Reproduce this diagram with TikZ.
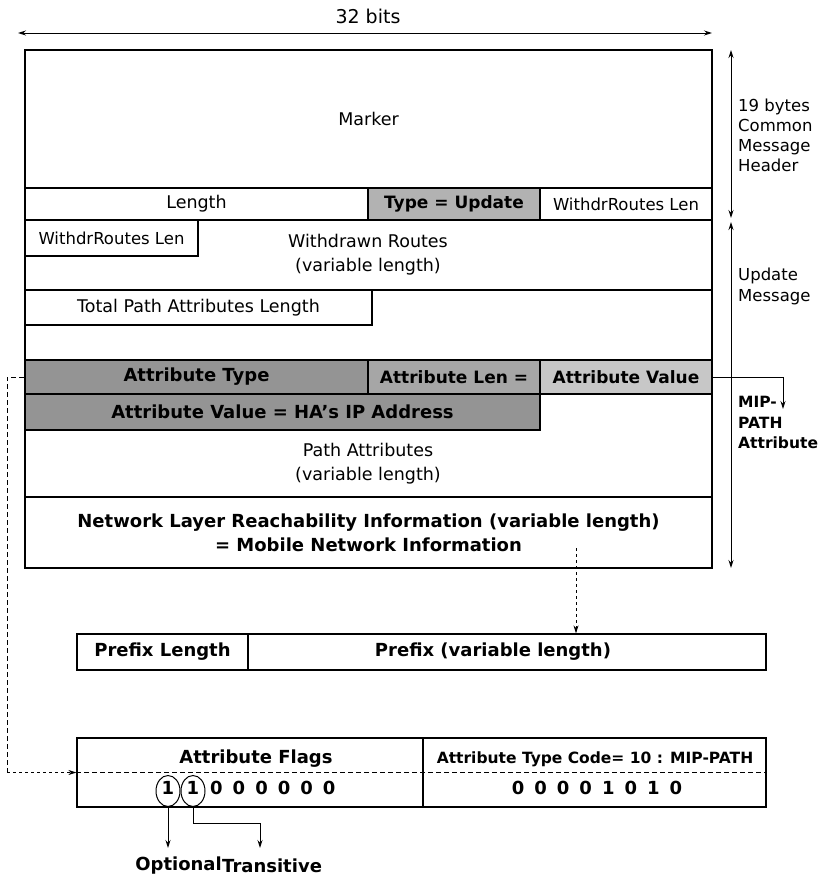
\documentclass[tikz,border=0pt]{standalone}
\usepackage{fontspec}
\setmainfont{DejaVu Sans}
\usetikzlibrary{arrows.meta,shapes.geometric}
\begin{document}
\begin{tikzpicture}[x=1pt,y=-1pt,
  txt/.style={font=\fontsize{17.5}{24}\selectfont, inner sep=0pt, align=center},
  btxt/.style={font=\bfseries\fontsize{18}{24}\selectfont, inner sep=0pt, align=center},
  cell/.style={draw, line width=1.2pt, inner sep=0pt, anchor=center},
  hot/.style={draw, line width=2.6pt, inner sep=0pt, anchor=center},
  arr/.style={-{Stealth[length=8pt,width=5pt]}, line width=0.9pt},
  darr/.style={{Stealth[length=8pt,width=5pt]}-{Stealth[length=8pt,width=5pt]}, line width=0.9pt},
  dsh/.style={dashed, dash pattern=on 5pt off 3pt, line width=1pt}
]
\useasboundingbox (0,0) rectangle (822,881);
\fill[white] (0,0) rectangle (822,881);

% 32 bits
\node[txt, font=\fontsize{19}{24}\selectfont] (bits) at (368,16) {32 bits};
\coordinate (bl) at (18,33);
\coordinate (br) at (712,33);
\draw[darr] (bl) -- (br);

% header
\node[cell, minimum width=687pt, minimum height=138pt, txt] (marker) at (368.5,119) {Marker};
\node[cell, minimum width=343pt, minimum height=32pt, txt] (len) at (196.5,204) {Length};
\node[cell, minimum width=172pt, minimum height=32pt, fill=black!30, btxt, font=\bfseries\fontsize{17}{22}\selectfont] (type) at (454,204) {Type = Update};
\node[cell, minimum width=172pt, minimum height=32pt, txt, font=\fontsize{16.5}{22}\selectfont] (wrl1) at (626,204) {WithdrRoutes Len};

% withdrawn routes
\node[cell, minimum width=687pt, minimum height=70pt] (wr) at (368.5,255) {};
\node[txt] (wrt) at (368,255) {Withdrawn Routes\\(variable length)};
\node[cell, minimum width=173pt, minimum height=36pt, txt, font=\fontsize{16.5}{22}\selectfont] (wrl2) at (111.5,238) {WithdrRoutes Len};

% path attributes
\node[cell, minimum width=687pt, minimum height=207pt] (pa) at (368.5,393.5) {};
\node[cell, minimum width=347pt, minimum height=35pt, txt] (tpal) at (198.5,307.5) {Total Path Attributes Length};
\node[hot, minimum width=343pt, minimum height=34pt, fill=black!42, btxt] (atype) at (196.5,377) {Attribute Type};
\node[hot, minimum width=172pt, minimum height=34pt, fill=black!35, btxt, font=\bfseries\fontsize{17}{22}\selectfont] (alen) at (454,377) {Attribute Len =};
\node[hot, minimum width=172pt, minimum height=34pt, fill=black!22, btxt, font=\bfseries\fontsize{17}{22}\selectfont] (aval) at (626,377) {Attribute Value};
\node[hot, minimum width=515pt, minimum height=36pt, fill=black!42, btxt] (haip) at (282.5,412) {Attribute Value = HA's IP Address};
\node[txt] (pat) at (368,464) {Path Attributes\\(variable length)};

% NLRI
\node[cell, minimum width=687pt, minimum height=71pt, btxt] (nlri) at (368.5,532.5) {Network Layer Reachability Information (variable length)\\= Mobile Network Information};

% right side arrows and labels
\coordinate (h1) at (731,50);
\coordinate (h2) at (731,218);
\coordinate (u1) at (731,222);
\coordinate (u2) at (731,568);
\draw[darr] (h1) -- (h2);
\draw[darr] (u1) -- (u2);
\node[txt, anchor=north west, align=left, font=\fontsize{16.5}{20}\selectfont] (hdr) at (738,99) {19 bytes\\Common\\Message\\Header};
\node[txt, anchor=north west, align=left, font=\fontsize{16.5}{21}\selectfont] (upd) at (738,268) {Update\\Message};
\node[btxt, anchor=north west, align=left, font=\bfseries\fontsize{15.5}{20.5}\selectfont] (mip) at (738,396) {MIP-\\PATH\\Attribute};
\coordinate (mc) at (783,377);
\coordinate (md) at (783,409);
\draw[arr] (aval.east) -- (mc) -- (md);

% prefix
\node[cell, minimum width=171pt, minimum height=36pt, btxt] (plen) at (162.5,652) {Prefix Length};
\node[cell, minimum width=518pt, minimum height=36pt] (pfx) at (507,652) {};
\node[btxt] (pfxt) at (493,652) {Prefix (variable length)};
\coordinate (nl) at (576,548);
\draw[dsh, arr, dashed] (nl) -- (nl |- pfx.north);

% attribute flags / type code
\node[cell, minimum width=346pt, minimum height=69pt] (af) at (250,772.5) {};
\node[cell, minimum width=343pt, minimum height=69pt] (tc) at (594.5,772.5) {};
\draw[dsh] (af.west) -- (tc.east);
\node[btxt] (aft) at (256,759) {Attribute Flags};
\node[btxt, font=\bfseries\fontsize{15.5}{18}\selectfont] (tct) at (595,759) {Attribute Type Code= 10 : MIP-PATH};
\node[btxt] (b1) at (168,788) {1};
\node[btxt] (b2) at (193,788) {1};
\node[btxt, anchor=west] (b3) at (210,788) {0\hspace{10pt}0\hspace{10pt}0\hspace{10pt}0\hspace{10pt}0\hspace{10pt}0};
\node[btxt] (tcb) at (597,788) {0\hspace{10pt}0\hspace{10pt}0\hspace{10pt}0\hspace{10pt}1\hspace{10pt}0\hspace{10pt}1\hspace{10pt}0};
\node[draw, ellipse, line width=1pt, minimum width=24pt, minimum height=31pt, inner sep=0pt] (e1) at (168,791) {};
\node[draw, ellipse, line width=1pt, minimum width=24pt, minimum height=31pt, inner sep=0pt] (e2) at (193,791) {};
\coordinate (o1) at (168,848);
\coordinate (t1) at (193,823);
\coordinate (t2) at (260,823);
\coordinate (t3) at (260,848);
\draw[arr] (e1.south) -- (o1);
\draw[arr] (e2.south) -- (t1) -- (t2) -- (t3);
\node[btxt, anchor=east] (opt) at (222,866) {Optional};
\node[btxt, anchor=west] (tra) at (222,866) {Transitive};

% dashed link from attribute type to flags
\coordinate (d1) at (7,377);
\coordinate (d2) at (7,772.5);
\draw[dsh] (atype.west) -- (d1) -- (d2);
\draw[dsh, arr, dashed] (d2) -- (af.west);
\end{tikzpicture}
\end{document}
